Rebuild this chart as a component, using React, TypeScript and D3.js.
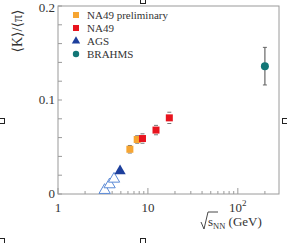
import React from "react";
import * as d3 from "d3";

const prelimX = [6.3, 7.6];
const prelimY = [0.0476, 0.058];
const prelimErr = [0.004, 0.004];
const na49X = [8.7, 12.3, 17.3];
const na49Y = [0.059, 0.068, 0.081];
const na49Err = [0.005, 0.005, 0.006];
const agsX = [4.9];
const agsY = [0.0245];
const agsOpenX = [3.3, 3.75, 4.2];
const agsOpenY = [0.003, 0.009, 0.015];
const brahmsX = [200];
const brahmsY = [0.136];
const brahmsErr = [0.02];
const legendLabels = ["NA49 preliminary", "NA49", "AGS", "BRAHMS"];
const yTicks = [0, 0.1, 0.2];
const xTicks = [1, 10, 100];

const W = 287, H = 243;
const L = 58, R = 279, T = 6, B = 194;
const serif = "'Liberation Serif', 'DejaVu Serif', serif";
const ORANGE = "#f6a532", RED = "#e8141e", BLUE = "#1d3f9c", LBLUE = "#5b8ad6", TEAL = "#127676";
const AX = "#9a9a9a";

export default function App() {
  const x = d3.scaleLog().domain([1, 287]).range([L, R]);
  const y = d3.scaleLinear().domain([0, 0.2]).range([B, T]);
  const minorX: number[] = [];
  for (let d = 1; d <= 100; d *= 10) for (let k = 2; k <= 9; k++) if (d * k < 287) minorX.push(d * k);
  const minorY = d3.range(0, 0.2001, 0.02);
  const tri = d3.symbol().type(d3.symbolTriangle).size(55);
  const openLine = d3.line<number>().x((_, i) => x(agsOpenX[i])).y((v) => y(v));
  const errBar = (xv: number, yv: number, e: number, k: string) => (
    <g key={k} stroke="#777" strokeWidth={1}>
      <line x1={x(xv) - 2} x2={x(xv) + 2} y1={y(yv + e)} y2={y(yv + e)} />
      <line x1={x(xv) - 2} x2={x(xv) + 2} y1={y(yv - e)} y2={y(yv - e)} />
    </g>
  );
  const handle = (cx: number, cy: number, k: string) => (
    <rect key={k} x={cx - 2.5} y={cy - 2.5} width={5} height={5} fill="white" stroke="#222" strokeWidth={1} />
  );
  return (
    <svg width={W} height={H} style={{ position: "absolute", left: 0, top: 0, background: "white" }} fontFamily={serif}>
      <rect x={L} y={T} width={R - L} height={B - T} fill="none" stroke={AX} strokeWidth={1} />
      {minorY.map((v, i) => (
        <line key={"my" + i} x1={L} x2={L + 4} y1={y(v)} y2={y(v)} stroke={AX} />
      ))}
      {minorX.map((v, i) => (
        <line key={"mx" + i} x1={x(v)} x2={x(v)} y1={B} y2={B - 3} stroke={AX} />
      ))}
      {xTicks.map((v, i) => (
        <line key={"Mx" + i} x1={x(v)} x2={x(v)} y1={B} y2={B - 6} stroke={AX} />
      ))}
      {yTicks.map((v, i) => (
        <text key={"yl" + i} x={L - 3} y={Math.max(y(v) + 4, 12)} textAnchor="end" fontSize={13} fill="#333">
          {v === 0 ? "0" : v.toFixed(1)}
        </text>
      ))}
      {xTicks.map((v, i) => (
        <text key={"xl" + i} x={x(v)} y={B + 18} textAnchor="middle" fontSize={13} fill="#333">
          {v === 100 ? (
            <>
              10<tspan fontSize={9} dy={-6}>2</tspan>
            </>
          ) : (
            String(v)
          )}
        </text>
      ))}
      <text transform={`translate(22,31) rotate(-90)`} textAnchor="middle" fontSize={14} fill="#333">
        ⟨K⟩/⟨π⟩
      </text>
      <g fill="#333" fontSize={13}>
        <path d="M201,222 L204,229 L208,212 L218,212" fill="none" stroke="#333" strokeWidth={0.9} />
        <text x={208} y={226}>s<tspan fontSize={8.5} dy={3}>NN</tspan><tspan dy={-3}> (GeV)</tspan></text>
      </g>

      {/* AGS open */}
      <path d={openLine(agsOpenY) || ""} fill="none" stroke={LBLUE} strokeWidth={0.8} />
      {agsOpenX.map((v, i) => (
        <path key={"ao" + i} d={tri()!} transform={`translate(${x(v)},${y(agsOpenY[i]) - 1})`} fill="white" stroke={LBLUE} strokeWidth={1} />
      ))}
      {agsX.map((v, i) => (
        <path key={"a" + i} d={tri()!} transform={`translate(${x(v)},${y(agsY[i])})`} fill={BLUE} />
      ))}
      {prelimX.map((v, i) => errBar(v, prelimY[i], prelimErr[i], "pe" + i))}
      {na49X.map((v, i) => errBar(v, na49Y[i], na49Err[i], "ne" + i))}
      {prelimX.map((v, i) => (
        <rect key={"p" + i} x={x(v) - 3.5} y={y(prelimY[i]) - 3.5} width={7} height={7} fill={ORANGE} />
      ))}
      {na49X.map((v, i) => (
        <rect key={"n" + i} x={x(v) - 3.5} y={y(na49Y[i]) - 3.5} width={7} height={7} fill={RED} />
      ))}
      {brahmsX.map((v, i) => (
        <g key={"b" + i}>
          <line x1={x(v)} x2={x(v)} y1={y(brahmsY[i] + brahmsErr[i])} y2={y(brahmsY[i] - brahmsErr[i])} stroke="#666" strokeWidth={1.2} />
          <line x1={x(v) - 2} x2={x(v) + 2} y1={y(brahmsY[i] + brahmsErr[i])} y2={y(brahmsY[i] + brahmsErr[i])} stroke="#666" />
          <line x1={x(v) - 2} x2={x(v) + 2} y1={y(brahmsY[i] - brahmsErr[i])} y2={y(brahmsY[i] - brahmsErr[i])} stroke="#666" />
          <circle cx={x(v)} cy={y(brahmsY[i])} r={4} fill={TEAL} />
        </g>
      ))}

      {/* legend */}
      {legendLabels.map((lab, i) => {
        const ly = 15 + i * 13;
        const lx = 76;
        let m;
        if (i === 0) m = <rect x={lx - 3} y={ly - 3} width={6} height={6} fill={ORANGE} />;
        else if (i === 1) m = <rect x={lx - 3} y={ly - 3} width={6} height={6} fill={RED} />;
        else if (i === 2) m = <path d={d3.symbol().type(d3.symbolTriangle).size(30)()!} transform={`translate(${lx},${ly})`} fill={BLUE} />;
        else m = <circle cx={lx} cy={ly} r={3.2} fill={TEAL} />;
        return (
          <g key={"lg" + i}>
            {m}
            <text x={87} y={ly + 4} fontSize={11} fill="#333">{lab}</text>
          </g>
        );
      })}
      {handle(143, 1, "h1")}
      {handle(2, 121, "h2")}
      {handle(285, 121, "h3")}
      {handle(2, 241, "h4")}
      {handle(143, 241, "h5")}
    </svg>
  );
}
